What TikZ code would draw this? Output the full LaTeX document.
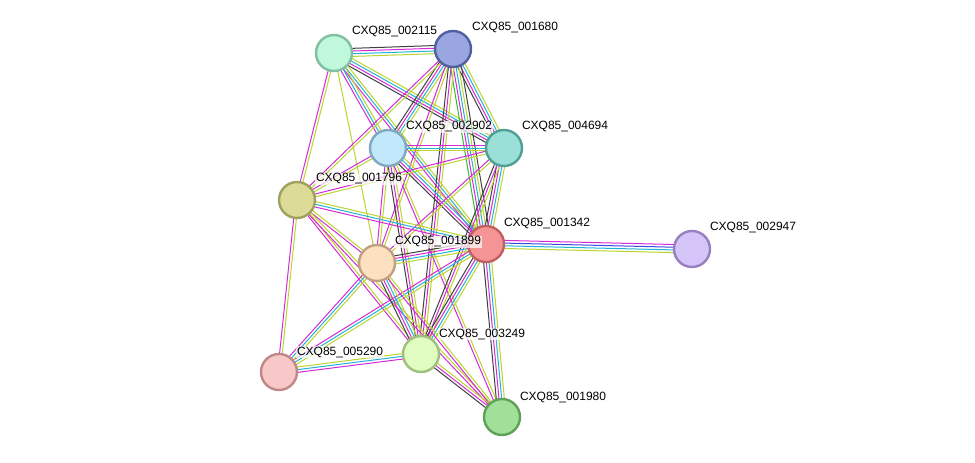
\documentclass[tikz,border=0pt]{standalone}
\usepackage{fontspec}
\setmainfont{Liberation Sans}
\usetikzlibrary{calc,backgrounds}
\definecolor{cmag}{HTML}{D62AD6}
\definecolor{cyel}{HTML}{BCD42E}
\definecolor{ccya}{HTML}{22B4D6}
\definecolor{cblk}{HTML}{404040}
\definecolor{cgrn}{HTML}{2EBE2E}
\definecolor{cblu}{HTML}{3A4AE0}
\tikzset{
  mg/.style={draw=cmag},
  yl/.style={draw=cyel},
  cy/.style={draw=ccya},
  bk/.style={draw=cblk},
  gn/.style={draw=cgrn},
  bl/.style={draw=cblu},
  prot/.style={circle, minimum size=36pt, inner sep=0pt, line width=2.4pt},
  lbl/.style={anchor=west, font=\fontsize{12}{13}\selectfont, inner sep=0.8pt, fill=white, fill opacity=0.7, text opacity=1},
}
\newcommand\edg[4]{%
  \foreach \cc [count=\ii] in {#4} {%
    \pgfmathsetmacro\oo{(\ii-(#3+1)/2)*2.7}%
    \draw[\cc, line width=1pt] ($(#1)!\oo pt!90:(#2)$) -- ($(#2)!\oo pt!-90:(#1)$);
  }%
}
\begin{document}
\begin{tikzpicture}[x=1pt,y=-1pt]
\useasboundingbox (0,0) rectangle (975,463);
% nodes
\node[prot, fill={rgb,255:red,192;green,248;blue,220}, draw={rgb,255:red,128;green,192;blue,160}] (A) at (334,53) {};
\node[prot, fill={rgb,255:red,154;green,166;blue,224}, draw={rgb,255:red,80;green,96;blue,160}] (B) at (453,49) {};
\node[prot, fill={rgb,255:red,192;green,232;blue,250}, draw={rgb,255:red,128;green,168;blue,192}] (C) at (388,148) {};
\node[prot, fill={rgb,255:red,154;green,224;blue,216}, draw={rgb,255:red,80;green,160;blue,152}] (D) at (504,148) {};
\node[prot, fill={rgb,255:red,220;green,220;blue,152}, draw={rgb,255:red,160;green,160;blue,96}] (E) at (297,200) {};
\node[prot, fill={rgb,255:red,244;green,148;blue,148}, draw={rgb,255:red,192;green,96;blue,96}] (F) at (486,244) {};
\node[prot, fill={rgb,255:red,212;green,196;blue,248}, draw={rgb,255:red,152;green,128;blue,192}] (G) at (692,249) {};
\node[prot, fill={rgb,255:red,253;green,224;blue,192}, draw={rgb,255:red,192;green,160;blue,128}] (H) at (377,263) {};
\node[prot, fill={rgb,255:red,248;green,200;blue,200}, draw={rgb,255:red,192;green,136;blue,136}] (I) at (279,372) {};
\node[prot, fill={rgb,255:red,224;green,252;blue,192}, draw={rgb,255:red,160;green,192;blue,128}] (J) at (421,354) {};
\node[prot, fill={rgb,255:red,160;green,224;blue,152}, draw={rgb,255:red,96;green,160;blue,88}] (K) at (502,417) {};
\begin{pgfonlayer}{background}
\fill[white] (0,0) rectangle (975,463);
\edg{A}{B}{4}{yl,cy,mg,bk}
\edg{A}{D}{4}{bk,mg,cy,yl}
\edg{A}{F}{3}{mg,cy,yl}
\edg{A}{C}{3}{mg,cy,yl}
\edg{A}{E}{2}{mg,yl}
\edg{A}{H}{1}{yl}
\edg{B}{C}{4}{bk,mg,cy,yl}
\edg{B}{D}{4}{bk,mg,cy,yl}
\edg{B}{F}{5}{gn,mg,cy,yl,bk}
\edg{B}{E}{2}{mg,yl}
\edg{B}{H}{2}{mg,yl}
\edg{B}{J}{3}{bk,mg,yl}
\edg{C}{D}{3}{yl,cy,mg}
\edg{C}{F}{4}{bk,mg,cy,yl}
\edg{C}{E}{2}{mg,yl}
\edg{C}{H}{2}{mg,yl}
\edg{C}{J}{3}{bk,mg,yl}
\edg{C}{K}{2}{mg,yl}
\edg{D}{E}{2}{mg,yl}
\edg{D}{F}{4}{bk,mg,cy,yl}
\edg{D}{H}{2}{mg,yl}
\edg{D}{J}{3}{bk,mg,yl}
\edg{E}{F}{3}{mg,cy,yl}
\edg{E}{H}{2}{mg,yl}
\edg{E}{I}{2}{mg,yl}
\edg{E}{J}{2}{mg,yl}
\edg{E}{K}{2}{mg,yl}
\edg{F}{G}{4}{yl,cy,bl,mg}
\edg{F}{H}{4}{bk,mg,cy,yl}
\edg{F}{I}{3}{mg,cy,yl}
\edg{F}{J}{4}{bk,mg,cy,yl}
\edg{F}{K}{4}{bk,mg,cy,yl}
\edg{H}{I}{3}{mg,cy,yl}
\edg{H}{J}{4}{bk,mg,cy,yl}
\edg{H}{K}{2}{mg,yl}
\edg{I}{J}{3}{mg,cy,yl}
\edg{J}{K}{3}{bk,mg,yl}
\end{pgfonlayer}
% labels
\node[lbl] (lA) at (351,32) {CXQ85\_002115};
\node[lbl] (lB) at (471,28) {CXQ85\_001680};
\node[lbl] (lC) at (405,127) {CXQ85\_002902};
\node[lbl] (lD) at (521,127) {CXQ85\_004694};
\node[lbl] (lE) at (315,179) {CXQ85\_001796};
\node[lbl] (lF) at (503,224) {CXQ85\_001342};
\node[lbl] (lG) at (709,228) {CXQ85\_002947};
\node[lbl] (lH) at (394,242) {CXQ85\_001899};
\node[lbl] (lI) at (296,352) {CXQ85\_005290};
\node[lbl] (lJ) at (438,334) {CXQ85\_003249};
\node[lbl] (lK) at (519,397) {CXQ85\_001980};
\end{tikzpicture}
\end{document}
